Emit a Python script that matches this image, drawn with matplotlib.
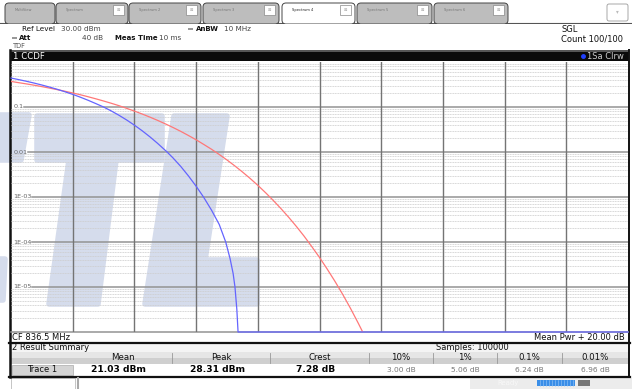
import matplotlib
matplotlib.use('Agg')
import matplotlib.pyplot as plt
from matplotlib.patches import Rectangle, FancyBboxPatch, Polygon

# CCDF: dB sobre la potencia media / probabilidad
red_db = [0.0, 0.25, 0.5, 0.75, 1.0, 1.25, 1.5, 1.75, 2.0, 2.25, 2.5, 2.75,
          3.0, 3.25, 3.5, 3.75, 4.0, 4.25, 4.5, 4.75, 5.0, 5.25, 5.5, 5.75,
          6.0, 6.25, 6.5, 6.75, 7.0, 7.25, 7.5, 7.75, 8.0, 8.25, 8.5, 8.75,
          9.0, 9.25, 9.5, 9.75, 10.0, 10.25, 10.5, 10.75, 11.0, 11.25, 11.4]
red_p = [0.37, 0.347, 0.326, 0.305, 0.284, 0.263, 0.243, 0.224, 0.205,
         0.187, 0.169, 0.152, 0.136, 0.121, 0.107, 0.0934, 0.0811, 0.0699,
         0.0597, 0.0505, 0.0423, 0.0351, 0.0288, 0.0233, 0.0187, 0.0147,
         0.0115, 0.0088, 0.00666, 0.00494, 0.00361, 0.00259, 0.00182,
         0.00125, 0.00084, 0.000553, 0.000355, 0.000222, 0.000135, 7.9e-5,
         4.54e-5, 2.5e-5, 1.34e-5, 6.9e-6, 3.4e-6, 1.6e-6, 1.0e-6]
blue_db = [0.0, 0.25, 0.5, 0.75, 1.0, 1.25, 1.5, 1.75, 2.0, 2.25, 2.5, 2.75,
           3.0, 3.25, 3.5, 3.75, 4.0, 4.25, 4.5, 4.75, 5.06, 5.25, 5.5, 5.75,
           6.0, 6.24, 6.5, 6.75, 6.96, 7.1, 7.2, 7.26, 7.32, 7.36, 20.0]
blue_p = [0.44, 0.406, 0.373, 0.34, 0.308, 0.277, 0.247, 0.218, 0.191,
          0.165, 0.141, 0.119, 0.10, 0.0817, 0.0655, 0.0514, 0.0395, 0.0297,
          0.0218, 0.0156, 0.01, 0.0074, 0.0048, 0.00295, 0.00174, 0.001,
          0.00051, 0.000245, 0.0001, 4.3e-5, 2.0e-5, 1e-5, 3.2e-6, 1e-6, 1e-6]

y_labels = ['0.1', '0.01', '1E-03', '1E-04', '1E-05']
tabs = ['MultiView', 'Spectrum', 'Spectrum 2', 'Spectrum 3', 'Spectrum 4',
        'Spectrum 5', 'Spectrum 6']
col_names = ['Mean', 'Peak', 'Crest', '10%', '1%', '0.1%', '0.01%']
col_values = ['21.03 dBm', '28.31 dBm', '7.28 dB', '3.00 dB', '5.06 dB',
              '6.24 dB', '6.96 dB']

W, H = 632, 389
fig = plt.figure(figsize=(W / 100, H / 100), dpi=100)
fig.patch.set_facecolor('white')

# capa de interfaz en pixeles
ui = fig.add_axes([0, 0, 1, 1])
ui.set_xlim(0, W)
ui.set_ylim(H, 0)
ui.axis('off')

def rect(x0, y0, x1, y1, fc, ec='none', lw=0.0, z=1):
    ui.add_patch(Rectangle((x0, y0), x1 - x0, y1 - y0, facecolor=fc,
                           edgecolor=ec, linewidth=lw, zorder=z))

def txt(x, y, s, size=5.5, color='#222', ha='left', weight='normal'):
    ui.text(x, y, s, fontsize=size, color=color, ha=ha, va='center',
            fontweight=weight, zorder=5)

# marca de agua
wm = '#d5dcec'
shapes = [
    [(0, 115), (29, 115), (21, 160), (0, 160)],
    [(0, 259), (5, 259), (3, 300), (0, 300)],
    [(37, 116), (162, 116), (162, 160), (116, 160), (98, 304), (49, 304),
     (69, 160), (37, 160)],
    [(174, 116), (227, 116), (205, 260), (257, 260), (257, 304), (145, 304)],
]
for pts in shapes:
    ui.add_patch(Polygon(pts, closed=True, facecolor=wm, edgecolor=wm,
                         linewidth=4, joinstyle='round', zorder=2))

# pestanas
ui.plot([0, W], [23, 23], color='#555', lw=0.8, zorder=3)
tab_x = [(5, 55), (56, 128), (129, 201), (203, 279), (282, 355), (357, 432),
         (434, 508)]
for i, (lab, (x0, x1)) in enumerate(zip(tabs, tab_x)):
    active = lab == 'Spectrum 4'
    ui.add_patch(FancyBboxPatch((x0, 3), x1 - x0, 21,
                                boxstyle='round,pad=0,rounding_size=4',
                                facecolor='white' if active else '#bdbdbd',
                                edgecolor='#444', linewidth=0.7, zorder=3))
    ui.text(x0 + 10, 10, lab, fontsize=2.6,
            color='#222' if active else '#777', va='center', zorder=4)
    if i > 0:
        ui.add_patch(Rectangle((x1 - 15, 5), 11, 10, facecolor='white',
                               edgecolor='#888', linewidth=0.5, zorder=4))
        ui.text(x1 - 9.5, 10, '⊠', fontsize=3, color='#aaa', ha='center',
                va='center', zorder=5)
rect(0, 24, W, 50, 'white', z=3)
ui.add_patch(FancyBboxPatch((607, 4), 21, 17,
                            boxstyle='round,pad=0,rounding_size=2',
                            facecolor='white', edgecolor='#999',
                            linewidth=0.6, zorder=3))
txt(617.5, 12, '▾', size=4, color='#bbb', ha='center')

# cabecera
txt(22, 29, 'Ref Level', 5.2, '#111')
txt(61, 29, '30.00 dBm', 5.2, '#444')
rect(12, 37, 17, 39, '#999', z=4)
txt(19, 38, 'Att', 5.0, '#111', weight='bold')
txt(103, 38, '40 dB', 5.2, '#444', ha='right')
txt(115, 38, 'Meas Time', 5.0, '#111', weight='bold')
txt(159, 38, '10 ms', 5.2, '#444')
txt(13, 46, 'TDF', 4.8, '#555')
rect(188, 28, 193, 30, '#999', z=4)
txt(196, 29, 'AnBW', 5.0, '#111', weight='bold')
txt(224, 29, '10 MHz', 5.2, '#444')
txt(561, 29, 'SGL', 6.0, '#111')
txt(561, 39, 'Count 100/100', 6.0, '#111')

# barra negra del diagrama
rect(10, 50, 629, 61, '#0a0a0a', z=3)
rect(10, 50, 629, 52, '#555', z=3)
txt(13, 56, '1 CCDF', 6.2, 'white')
ui.plot([583], [56], 'o', color='#2040ff', ms=2.5, zorder=5)
txt(587, 56, '1Sa Clrw', 6.0, '#cccccc')

# diagrama
ax = fig.add_axes([11 / W, 1 - 332 / H, 617 / W, 270 / H])
ax.set_yscale('log')
ax.set_xlim(0, 20)
ax.set_ylim(1e-6, 1)
ax.patch.set_visible(False)
ax.tick_params(which='both', length=0, labelleft=False, labelbottom=False)
for s in ax.spines.values():
    s.set_visible(False)

for k in range(-6, 0):
    for m in range(2, 10):
        ax.plot([0, 20], [m * 10.0 ** k] * 2, color='#cdcdcd', lw=0.6,
                ls=(0, (1.2, 0.8)), zorder=1)
label_end = [0.42, 0.55, 0.68, 0.68, 0.68]
for k, (lab, x0) in enumerate(zip(y_labels, label_end)):
    v = 10.0 ** (-(k + 1))
    ax.plot([x0, 20], [v, v], color='#939393', lw=1.1, zorder=2)
    ax.text(0.07, v, lab, fontsize=4.6, color='#666', va='center',
            ha='left', zorder=3)
ax.plot([0, 20], [1e-6, 1e-6], color='#939393', lw=1.1, zorder=2,
        clip_on=False)
for x in range(2, 20, 2):
    ax.axvline(x, color='#747474', lw=1.0, zorder=2)

ax.plot(red_db, red_p, color='#ff7878', lw=0.9, zorder=4)
ax.plot(blue_db, blue_p, color='#6464ff', lw=0.9, zorder=5, clip_on=False)

# pie del diagrama y resumen
txt(12, 337, 'CF 836.5 MHz', 6.0, '#111')
txt(625, 337, 'Mean Pwr + 20.00 dB', 6.0, '#111', ha='right')
ui.plot([9, 630], [342.5, 342.5], color='#111', lw=1.6, zorder=4)
rect(10, 343, 629, 352, '#f4f4f4', z=3)
txt(12, 348, '2 Result Summary', 6.0, '#111')
txt(472, 348, 'Samples: 100000', 6.0, '#111', ha='center')

edges = [73, 172, 270, 369, 433, 497, 562, 628]
rect(10, 352, 629, 358, '#e6e6e6', z=3)
rect(10, 358, 629, 364, '#cfcfcf', z=3)
rect(10, 364, 629, 376, 'white', z=3)
rect(12, 364.5, 73, 375, '#d4d4d4', ec='#aaa', lw=0.5, z=4)
txt(42.5, 370, 'Trace 1', 6.0, '#111', ha='center')
for i, (name, val) in enumerate(zip(col_names, col_values)):
    cx = (edges[i] + edges[i + 1]) / 2
    txt(cx, 358, name, 6.2, '#111', ha='center')
    if i < 3:
        txt(cx - 4, 370, val, 6.6, '#000', ha='center', weight='bold')
    else:
        txt(cx, 370, val, 5.4, '#777', ha='center')
    if i > 0:
        ui.plot([edges[i], edges[i]], [353, 363], color='#999', lw=0.6,
                zorder=4)
ui.plot([9, 630], [376.5, 376.5], color='#111', lw=1.6, zorder=4)
ui.plot([10, 10], [50, 377], color='#111', lw=1.8, zorder=4)
ui.plot([629, 629], [50, 377], color='#111', lw=1.4, zorder=4)

# barra de estado
rect(11, 378, 75, 389, 'white', ec='#bbb', lw=0.6, z=3)
ui.plot([78, 78], [378, 389], color='#aaa', lw=1.5, zorder=4)
rect(470, 378, 632, 389, '#ececec', z=3)
txt(497, 383, 'Ready', 5.0, '#f8f8f8')
rect(537, 380, 575, 386, '#3a8ee8', z=4)
for bx in range(540, 575, 3):
    ui.plot([bx, bx], [380, 386], color='#9cc8f5', lw=0.4, zorder=5)
rect(578, 380, 590, 386, '#777', z=4)

fig.savefig('out.png', dpi=100)
